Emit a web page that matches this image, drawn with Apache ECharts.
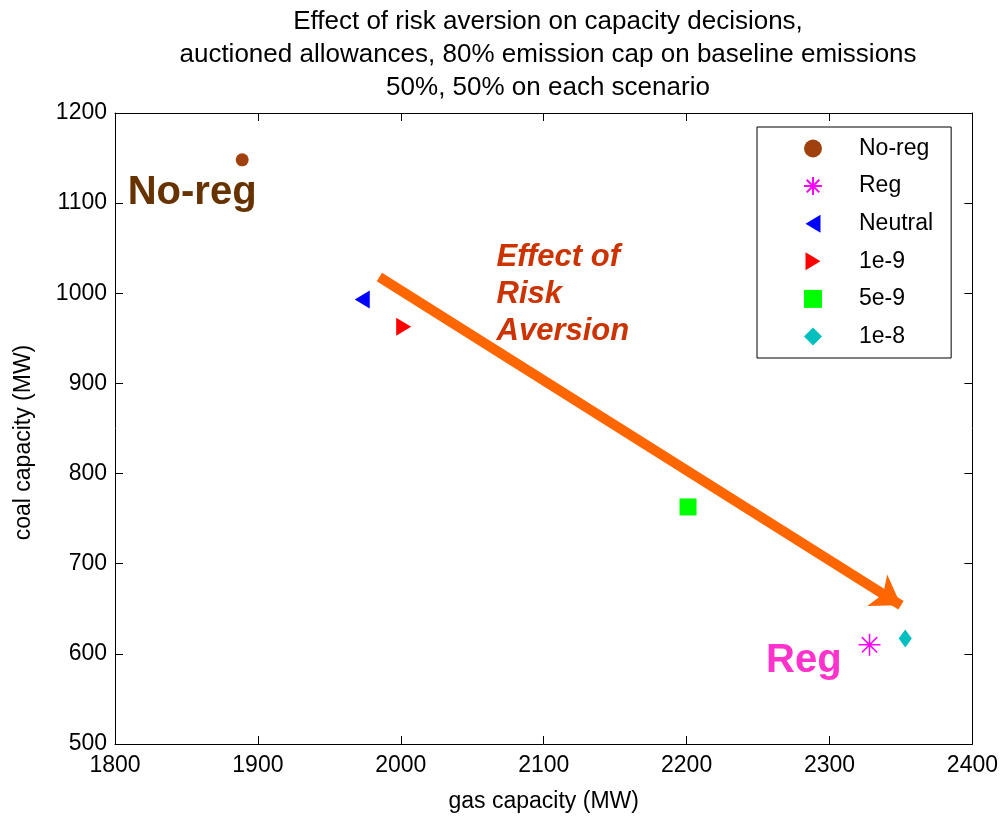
<!DOCTYPE html>
<html>
<head>
<meta charset="utf-8">
<script src="https://cdn.jsdelivr.net/npm/echarts@6/dist/echarts.min.js"></script>
<style>
html, body { margin: 0; padding: 0; background: #fff; }
#main { width: 1001px; height: 818px; }
</style>
</head>
<body>
<div id="main"></div>
<script>
// data
var seriesNames = ['No-reg', 'Reg', 'Neutral', '1e-9', '5e-9', '1e-8'];
var gasCapacity = [1889, 2328, 1973, 2002, 2201, 2353];
var coalCapacity = [1148, 610, 993, 963, 763, 617];
var arrowFrom = [1985, 1018];
var arrowTo = [2350, 654];

var font = '"Liberation Sans", Arial, sans-serif';
var starPath = 'path://M10 0 L10 20 M0 10 L20 10 M3 3 L17 17 M3 17 L17 3';
var leftTri = 'path://M0 6 L10 0 L10 12 Z';
var rightTri = 'path://M10 6 L0 0 L0 12 Z';

var styles = [
  { symbol: 'circle', symbolSize: 13, itemStyle: { color: '#a0410d', opacity: 1 } },
  { symbol: starPath, symbolSize: 22, itemStyle: { color: 'rgba(0,0,0,0)', borderColor: '#ff00ff', borderWidth: 1.5, opacity: 1 } },
  { symbol: leftTri, symbolSize: [15, 18], itemStyle: { color: '#0000ff', opacity: 1 } },
  { symbol: rightTri, symbolSize: [15, 18], itemStyle: { color: '#ff0000', opacity: 1 } },
  { symbol: 'rect', symbolSize: 17, itemStyle: { color: '#00ff00', opacity: 1 } },
  { symbol: 'diamond', symbolSize: [13, 18], itemStyle: { color: '#00bfbf', opacity: 1 } }
];

var series = seriesNames.map(function (name, i) {
  return {
    name: name,
    type: 'scatter',
    data: [[gasCapacity[i], coalCapacity[i]]],
    symbol: styles[i].symbol,
    symbolSize: styles[i].symbolSize,
    itemStyle: styles[i].itemStyle,
    z: 5
  };
});

var noteLabel = function (text, size, color, extra) {
  var l = { show: true, formatter: text, fontSize: size, fontWeight: 'bold', color: color,
    fontFamily: 'Arial, "Liberation Sans", sans-serif', position: 'inside' };
  for (var k in extra) l[k] = extra[k];
  return l;
};

series.push({
  name: 'notes',
  type: 'scatter',
  data: [],
  silent: true,
  markLine: {
    silent: true,
    symbol: ['none', 'arrow'],
    symbolSize: [28, 28],
    label: { show: false },
    lineStyle: { color: '#ff6600', width: 10, type: 'solid', opacity: 1 },
    data: [[{ coord: arrowFrom }, { coord: arrowTo }]]
  },
  markPoint: {
    silent: true,
    symbol: 'circle',
    symbolSize: 1,
    itemStyle: { color: 'rgba(0,0,0,0)' },
    data: [
      { coord: [1854, 1111], label: noteLabel('No-reg', 40, '#663300', {}) },
      { coord: [2282, 592], label: noteLabel('Reg', 40, '#ff33cc', {}) },
      { coord: [2067, 999], label: noteLabel('Effect of\nRisk\nAversion', 31, '#cc3300',
          { fontStyle: 'italic', align: 'left', lineHeight: 37 }) }
    ]
  }
});

var plain = function (v) { return String(v); };

var chart = echarts.init(document.getElementById('main'));
var option = {
  backgroundColor: '#fff',
  animation: false,
  title: {
    text: 'Effect of risk aversion on capacity decisions,\nauctioned allowances, 80% emission cap on baseline emissions\n50%, 50% on each scenario',
    left: 543,
    top: 0,
    textAlign: 'center',
    textStyle: { fontSize: 26, fontWeight: 'normal', color: '#000', lineHeight: 33, fontFamily: font }
  },
  legend: {
    data: seriesNames,
    orient: 'vertical',
    left: 757,
    top: 127,
    itemWidth: 18,
    itemHeight: 18,
    itemGap: 14.6,
    padding: [10, 18, 10, 46],
    borderColor: '#000',
    borderWidth: 1,
    backgroundColor: '#fff',
    textStyle: { fontSize: 23, color: '#000', fontFamily: font, padding: [0, 0, 0, 32] }
  },
  grid: { left: 115, right: 28, top: 113, bottom: 74 },
  xAxis: [{
    type: 'value', min: 1800, max: 2400, interval: 100,
    name: 'gas capacity (MW)', nameLocation: 'middle', nameGap: 46,
    nameTextStyle: { fontSize: 23, color: '#000', fontFamily: font },
    axisLine: { lineStyle: { color: '#000', width: 1 } },
    axisTick: { inside: true, length: 8, lineStyle: { color: '#000' } },
    axisLabel: { fontSize: 23, color: '#000', margin: 10, fontFamily: font, formatter: plain },
    splitLine: { show: false }
  }, {
    type: 'value', min: 1800, max: 2400, interval: 100, position: 'top',
    axisLine: { lineStyle: { color: '#000', width: 1 } },
    axisTick: { inside: true, length: 8, lineStyle: { color: '#000' } },
    axisLabel: { show: false }, splitLine: { show: false }
  }],
  yAxis: [{
    type: 'value', min: 500, max: 1200, interval: 100,
    name: 'coal capacity (MW)', nameLocation: 'middle', nameGap: 80,
    nameTextStyle: { fontSize: 23, color: '#000', fontFamily: font, padding: [0, 28, 0, 0] },
    axisLine: { show: true, lineStyle: { color: '#000', width: 1 } },
    axisTick: { show: true, inside: true, length: 8, lineStyle: { color: '#000' } },
    axisLabel: { fontSize: 23, color: '#000', margin: 8, fontFamily: font, formatter: plain },
    splitLine: { show: false }
  }, {
    type: 'value', min: 500, max: 1200, interval: 100, position: 'right',
    axisLine: { show: true, lineStyle: { color: '#000', width: 1 } },
    axisTick: { show: true, inside: true, length: 8, lineStyle: { color: '#000' } },
    axisLabel: { show: false }, splitLine: { show: false }
  }],
  series: series
};
chart.setOption(option);
window.addEventListener('resize', chart.resize);
</script>
</body>
</html>
